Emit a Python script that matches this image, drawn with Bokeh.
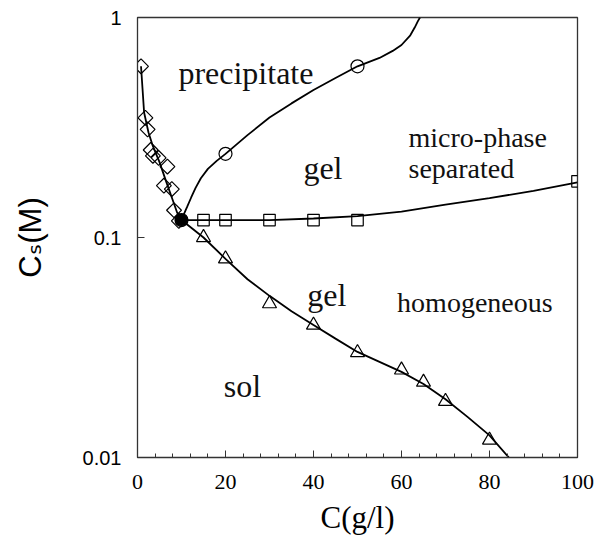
import numpy as np
from bokeh.plotting import figure
from bokeh.models import FixedTicker, Label, CustomJSTickFormatter
from bokeh.embed import file_html
from bokeh.resources import INLINE

# ---------------- data ----------------
diamond_c = [0.8, 1.8, 2.3, 3.0, 3.5, 4.8, 6.8, 6.0, 7.8, 8.3, 9.4]
diamond_cs = [0.6, 0.35, 0.31, 0.25, 0.235, 0.23, 0.21, 0.172, 0.166, 0.133, 0.119]

circle_c = [10, 20, 50]
circle_cs = [0.12, 0.24, 0.6]

square_c = [15, 20, 30, 40, 50, 100]
square_cs = [0.12, 0.12, 0.12, 0.12, 0.12, 0.18]

triangle_c = [15, 20, 30, 40, 50, 60, 65, 70, 80]
triangle_cs = [0.1, 0.08, 0.05, 0.04, 0.03, 0.025, 0.022, 0.018, 0.012]

crit_c = [10]
crit_cs = [0.12]

# boundary curves
precip_curve_c = [10, 10.5, 11.3, 12.2, 13.2, 14.4, 16, 18, 20, 25, 30, 35, 40, 45, 50,
                  55, 58, 60, 62, 63, 63.7, 64.2]
precip_curve_cs = [0.12, 0.127, 0.138, 0.152, 0.168, 0.186, 0.205, 0.223, 0.24, 0.292,
                   0.351, 0.407, 0.468, 0.531, 0.6, 0.655, 0.705, 0.75, 0.83, 0.9, 0.96, 1.0]
micro_curve_c = [10, 15, 20, 30, 40, 50, 60, 70, 80, 90, 100]
micro_curve_cs = [0.12, 0.12, 0.12, 0.12, 0.122, 0.125, 0.131, 0.141, 0.151, 0.163, 0.178]
sol_curve_c = [0.8, 1.5, 2.5, 3.5, 5, 6.5, 8, 9, 10]
sol_curve_cs = [0.6, 0.37, 0.3, 0.26, 0.22, 0.18, 0.148, 0.13, 0.12]
gel_curve_c = [10, 15, 20, 25, 30, 35, 40, 45, 50, 55, 60, 65, 70, 75, 80, 84.4]
gel_curve_cs = [0.12, 0.1, 0.08, 0.0646, 0.0543, 0.0462, 0.04, 0.0347, 0.0302, 0.0272,
                0.0245, 0.0216, 0.0184, 0.0153, 0.0126, 0.01]

x_ticks = [0, 20, 40, 60, 80, 100]
x_minor_ticks = [4, 8, 12, 16, 24, 28, 32, 36, 44, 48, 52, 56, 64, 68, 72, 76, 84, 88, 92, 96]
y_ticks = [0.01, 0.1, 1]
y_tick_labels = ["0.01", "0.1", "1"]

x_title = "C(g/l)"
y_title = "C\u209b(M)"

region_names = ["precipitate", "gel", "micro-phase", "separated", "gel", "homogeneous", "sol"]
region_x = [9.3, 37.7, 61.6, 61.6, 38.6, 59.0, 19.6]
region_y = [0.562, 0.208, 0.286, 0.206, 0.0545, 0.0508, 0.0212]
region_size = ["32px", "32px", "28px", "28px", "32px", "28px", "32px"]

# ---------------- figure ----------------
p = figure(width=594, height=540, x_range=(0, 100), y_range=(0.01, 1),
           y_axis_type="log", output_backend="svg", toolbar_location=None,
           min_border_left=137, min_border_right=17, min_border_top=17,
           min_border_bottom=83)
p.background_fill_color = "white"
p.border_fill_color = "white"
p.outline_line_color = "#333333"
p.outline_line_width = 1.3
p.xgrid.visible = False
p.ygrid.visible = False

# x axis
p.xaxis.ticker = FixedTicker(ticks=x_ticks, minor_ticks=x_minor_ticks)
p.xaxis.major_tick_in = 7
p.xaxis.major_tick_out = 0
p.xaxis.minor_tick_in = 4
p.xaxis.minor_tick_out = 0
p.xaxis.major_label_text_font = "Liberation Serif"
p.xaxis.major_label_text_font_size = "22px"
p.xaxis.major_label_text_color = "black"
p.xaxis.major_label_standoff = 17
p.xaxis.axis_line_color = "#333333"
p.xaxis.major_tick_line_color = "#333333"
p.xaxis.minor_tick_line_color = "#333333"
p.xaxis.axis_label = x_title
p.xaxis.axis_label_text_font = "Liberation Serif"
p.xaxis.axis_label_text_font_size = "31px"
p.xaxis.axis_label_text_font_style = "normal"
p.xaxis.axis_label_text_color = "black"
p.xaxis.axis_label_standoff = 8

# y axis
p.yaxis.ticker = FixedTicker(ticks=y_ticks, minor_ticks=[])
p.yaxis.formatter = CustomJSTickFormatter(
    args=dict(vals=y_ticks, labels=y_tick_labels),
    code="""
for (let i = 0; i < vals.length; i++) {
  if (Math.abs(Math.log10(vals[i]) - Math.log10(tick)) < 1e-6) return labels[i];
}
return '';
""")
p.yaxis.major_tick_in = 7
p.yaxis.major_tick_out = 0
p.yaxis.minor_tick_in = 0
p.yaxis.minor_tick_out = 0
p.yaxis.major_label_text_font = "Liberation Sans"
p.yaxis.major_label_text_font_size = "20px"
p.yaxis.major_label_text_color = "black"
p.yaxis.major_label_standoff = 16
p.yaxis.axis_line_color = "#333333"
p.yaxis.major_tick_line_color = "#333333"
p.yaxis.axis_label = y_title
p.yaxis.axis_label_text_font = "'Liberation Sans', 'DejaVu Sans'"
p.yaxis.axis_label_text_font_size = "31px"
p.yaxis.axis_label_text_font_style = "normal"
p.yaxis.axis_label_text_color = "black"
p.yaxis.axis_label_standoff = 32

# ---------------- curves ----------------
lw = 1.8
p.line(sol_curve_c, sol_curve_cs, line_color="black", line_width=lw)
p.line(gel_curve_c, gel_curve_cs, line_color="black", line_width=lw)
p.line(precip_curve_c, precip_curve_cs, line_color="black", line_width=lw)
p.line(micro_curve_c, micro_curve_cs, line_color="black", line_width=lw)

# ---------------- markers ----------------
mlw = 1.2
p.scatter(diamond_c, diamond_cs, marker="square", angle=np.pi / 4, size=10.5,
          fill_color="white", fill_alpha=0.0, line_color="black", line_width=mlw)
p.scatter(circle_c, circle_cs, marker="circle", size=13,
          fill_color="white", fill_alpha=0.0, line_color="black", line_width=mlw)
p.scatter(square_c, square_cs, marker="square", size=11.5,
          fill_color="white", fill_alpha=0.0, line_color="black", line_width=mlw)
p.scatter(triangle_c, triangle_cs, marker="triangle", size=14,
          fill_color="white", fill_alpha=0.0, line_color="black", line_width=mlw)
p.scatter(crit_c, crit_cs, marker="circle", size=12,
          fill_color="black", line_color="black", line_width=mlw)

# ---------------- region labels ----------------
for name, x, y, fs in zip(region_names, region_x, region_y, region_size):
    p.add_layout(Label(x=x, y=y, text=name, text_font="Liberation Serif",
                       text_font_size=fs, text_color="#111111",
                       text_align="left", text_baseline="alphabetic"))

open("out.html", "w").write(file_html(p, INLINE))
